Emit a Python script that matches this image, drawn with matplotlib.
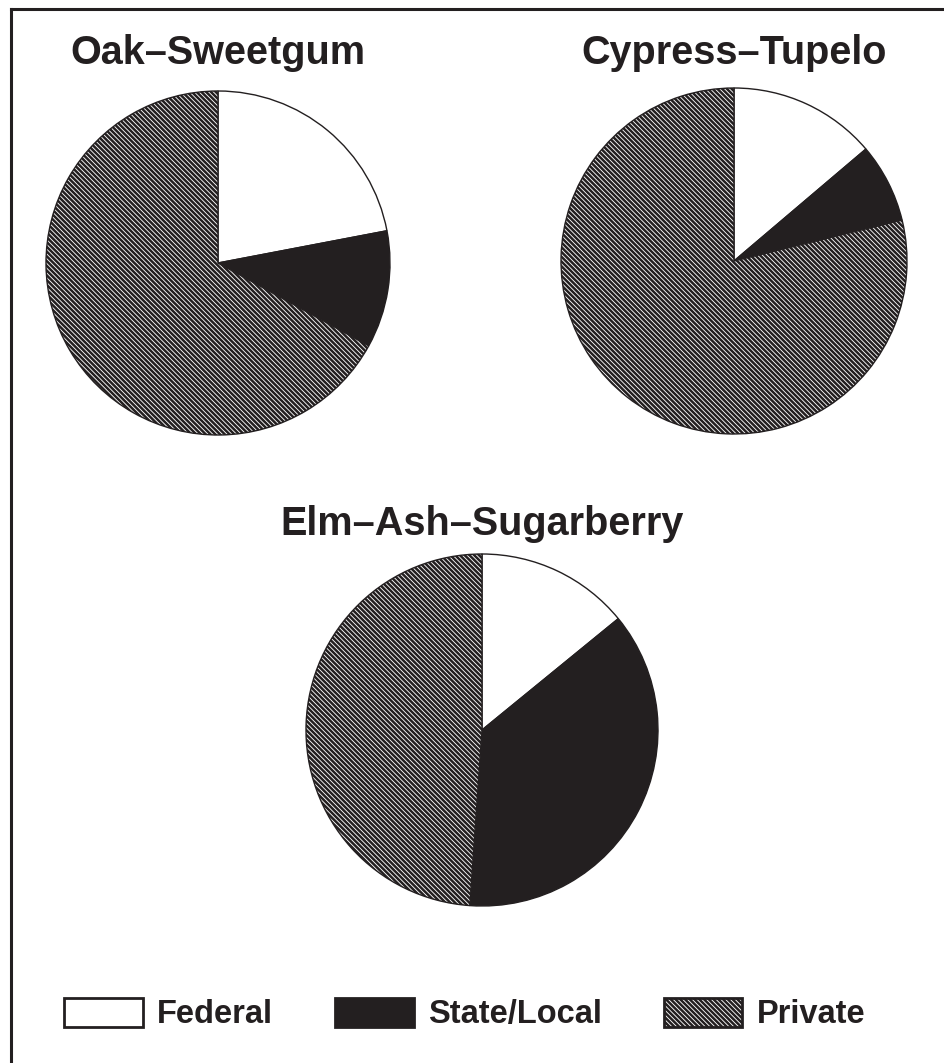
import matplotlib
matplotlib.use("Agg")
import matplotlib.pyplot as plt
from matplotlib.patches import Patch
from matplotlib.lines import Line2D

W, H = 944, 1063
INK = "#231f20"

owners = ["Federal", "State/Local", "Private"]
forest_types = ["Oak\u2013Sweetgum", "Cypress\u2013Tupelo", "Elm\u2013Ash\u2013Sugarberry"]
federal = [22.0, 13.8, 14.1]
state_local = [11.0, 7.4, 37.0]
private = [67.0, 78.8, 48.9]

plt.rcParams["font.family"] = ["Liberation Sans", "DejaVu Sans"]
plt.rcParams["font.weight"] = "bold"
plt.rcParams["hatch.linewidth"] = 1.8

fig = plt.figure(figsize=(W / 100, H / 100), dpi=100)
fig.patch.set_facecolor("white")

# pixel layout: pie centre x, centre y, radius, title baseline y
layout = [(218, 263, 172, 64), (734, 261, 173, 64), (482, 730, 176, 535)]

colors = ["white", INK, "white"]
hatches = [None, None, "\\" * 7]

for i, (cx, cy, r, ty) in enumerate(layout):
    ax = fig.add_axes([(cx - r) / W, 1 - (cy + r) / H, 2 * r / W, 2 * r / H])
    vals = [federal[i], state_local[i], private[i]]
    wedges, _ = ax.pie(vals, startangle=90, counterclock=False, colors=colors,
                       wedgeprops=dict(edgecolor=INK, linewidth=1.0))
    for w, h in zip(wedges, hatches):
        if h:
            w.set_hatch(h)
    ax.set_xlim(-1, 1)
    ax.set_ylim(-1, 1)
    ax.set_aspect("equal")
    fig.text(cx / W, 1 - ty / H, forest_types[i], ha="center", va="baseline",
             fontsize=28.5, fontweight="bold", color=INK)

handles = [Patch(facecolor=c, edgecolor=INK, linewidth=2, hatch=h, label=o)
           for c, h, o in zip(colors, hatches, owners)]
fig.legend(handles=handles, loc="center", bbox_to_anchor=(465 / W, 1 - 1014 / H),
           ncol=3, frameon=False, handlelength=2.4, handleheight=1.0,
           handletextpad=0.45, columnspacing=1.9, borderpad=0,
           prop=dict(weight="bold", size=23.5))
for t in fig.legends[0].get_texts():
    t.set_color(INK)

# frame (left and top edges visible)
fig.add_artist(Line2D([11 / W, 11 / W], [0, 1 - 9 / H], color=INK, linewidth=2.2))
fig.add_artist(Line2D([11 / W, 1], [1 - 9 / H, 1 - 9 / H], color=INK, linewidth=2.2))

fig.savefig("out.png", dpi=100, facecolor="white")
